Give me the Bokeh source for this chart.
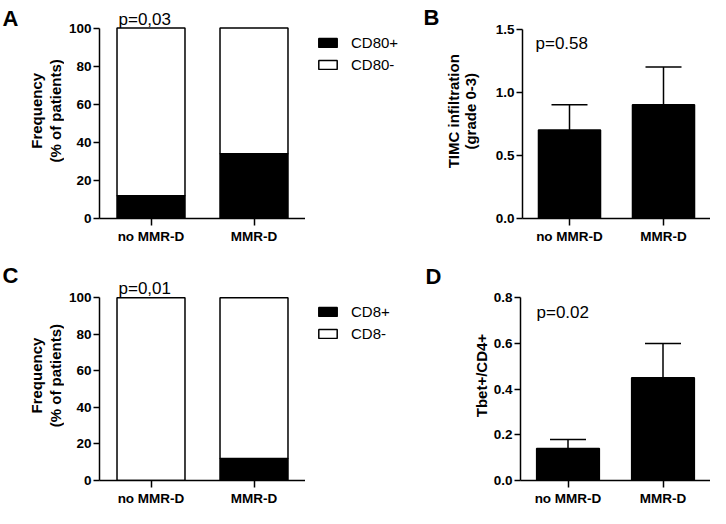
import math
from bokeh.plotting import figure
from bokeh.layouts import column, row
from bokeh.models import (ColumnDataSource, FactorRange, Range1d, FixedTicker, Label,
                          Legend, LegendItem, Whisker, TeeHead, PrintfTickFormatter)
from bokeh.core.properties import value
from bokeh.embed import file_html
from bokeh.resources import INLINE

# ---------------- data ----------------
groups = ["no MMR-D", "MMR-D"]

cd80_pos = [12, 34]
cd80_neg = [88, 66]

timc_mean = [0.70, 0.90]
timc_err = [0.20, 0.30]

cd8_pos = [0, 12]
cd8_neg = [100, 88]

tbet_mean = [0.14, 0.45]
tbet_err = [0.04, 0.15]

freq_ticks = [0, 20, 40, 60, 80, 100]
timc_ticks = [0.0, 0.5, 1.0, 1.5]
tbet_ticks = [0.0, 0.2, 0.4, 0.6, 0.8]

FONT = "Liberation Sans"
H1, H2 = 246, 262          # row heights
B1, B2 = 25, 25            # bottom borders (x tick labels)
NAN = float("nan")


def blank_fig(width, height):
    t = figure(width=width, height=height, x_range=Range1d(0, width),
               y_range=Range1d(0, height), x_axis_type=None, y_axis_type=None,
               output_backend="svg", toolbar_location=None, min_border=0)
    t.outline_line_color = None
    return t


def text_fig(width, height, items):
    """Helper canvas (frame = whole figure) holding panel letters and y titles."""
    t = blank_fig(width, height)
    for txt, x, y, size, angle, align, baseline in items:
        t.text(x=[x], y=[y], text=[txt], angle=angle, text_font=value(FONT),
               text_font_size=value(size), text_font_style="bold", text_color="black",
               text_align=align, text_baseline=baseline)
    return t


def legend_fig(width, height, labels, leg_y):
    t = blank_fig(width, height)
    # legend proxies (no visible data)
    r_pos = t.vbar(x=[NAN], top=[NAN], width=1, fill_color="black", line_color="black",
                   line_width=1.5)
    r_neg = t.vbar(x=[NAN], top=[NAN], width=1, fill_color="white", line_color="black",
                   line_width=1.5)
    legend = Legend(items=[LegendItem(label=labels[0], renderers=[r_pos]),
                           LegendItem(label=labels[1], renderers=[r_neg])],
                    location=(11, leg_y), padding=0, margin=0, spacing=5,
                    glyph_width=23, glyph_height=11, label_standoff=12,
                    label_height=11, label_text_font=FONT, label_text_font_size="15px",
                    label_text_color="black",
                    border_line_color=None, background_fill_alpha=0)
    t.add_layout(legend)
    return t


def base_fig(width, height, left, right, bottom, ytop, ymax_axis, ticks, fmt=None):
    p = figure(width=width, height=height, x_range=FactorRange(*groups),
               y_range=Range1d(0, ytop), output_backend="svg", toolbar_location=None,
               min_border_left=left, min_border_right=right, min_border_top=0,
               min_border_bottom=bottom)
    p.xgrid.visible = False
    p.ygrid.visible = False
    p.outline_line_color = None
    for ax in (p.xaxis[0], p.yaxis[0]):
        ax.axis_line_width = 1.5
        ax.major_tick_line_width = 1.5
        ax.major_tick_in = 0
        ax.minor_tick_line_color = None
        ax.major_label_text_font = FONT
        ax.major_label_text_font_style = "bold"
        ax.major_label_text_font_size = "13.5px"
        ax.major_label_text_color = "black"
        ax.axis_line_color = "black"
        ax.major_tick_line_color = "black"
    p.xaxis.major_tick_out = 7
    p.xaxis.major_label_standoff = 3
    p.yaxis.major_tick_out = 6
    p.yaxis.major_label_standoff = 2
    p.yaxis.bounds = (0, ymax_axis)
    p.yaxis.ticker = FixedTicker(ticks=ticks)
    if fmt:
        p.yaxis.formatter = PrintfTickFormatter(format=fmt)
    return p


def p_label(p, text, x, y):
    p.add_layout(Label(x=x, y=y, x_units="screen", y_units="data", text=text,
                       text_font=FONT, text_font_size="17px", text_color="black",
                       text_align="left", text_baseline="alphabetic"))


def stacked_panel(height, bottom, ytop, pos, neg, ptext, p_y):
    p = base_fig(241, height, 35, 0, bottom, ytop, 100, freq_ticks)
    src = ColumnDataSource(dict(cat=groups, pos=pos, neg=neg))
    p.vbar_stack(["pos", "neg"], x="cat", width=0.66, source=src,
                 fill_color=["black", "white"], line_color="black", line_width=1.5)
    p_label(p, ptext, 19, p_y)
    return p


def bar_panel(width, height, left, bottom, ytop, ymax_axis, ticks, mean, err,
              ptext, p_x, p_y):
    p = base_fig(width, height, left, 0, bottom, ytop, ymax_axis, ticks, "%.1f")
    upper = [m + e for m, e in zip(mean, err)]
    src = ColumnDataSource(dict(cat=groups, mean=mean, upper=upper))
    p.vbar(x="cat", top="mean", width=0.66, source=src, fill_color="black",
           line_color="black", line_width=1.5)
    p.add_layout(Whisker(base="cat", lower="mean", upper="upper", source=src,
                         dimension="height", line_width=1.5, line_color="black",
                         lower_head=None,
                         upper_head=TeeHead(size=36, line_width=1.5, line_color="black"),
                         level="glyph"))
    p_label(p, ptext, p_x, p_y)
    return p


R = math.pi / 2
# ---- row 1 ----
tA = text_fig(64, H1, [
    ("A", 2, H1 - 20, "22px", 0, "left", "alphabetic"),
    ("Frequency", 35.5, H1 - 124.5, "15px", R, "center", "middle"),
    ("(% of patients)", 54.5, H1 - 124.5, "15px", R, "center", "middle"),
])
pA = stacked_panel(H1, B1, 114.5, cd80_pos, cd80_neg, "p=0,03", 104.65)
lA = legend_fig(95, H1, ["CD80+", "CD80-"], 145)
tB = text_fig(82, H1, [
    ("B", 23, H1 - 19, "22px", 0, "left", "alphabetic"),
    ("TIMC infiltration", 52.5, H1 - 125, "15px", R, "center", "middle"),
    ("(grade 0-3)", 70, H1 - 125, "15px", R, "center", "middle"),
])
pB = bar_panel(228, H1, 40, B1, 1.7266, 1.5, timc_ticks, timc_mean, timc_err,
               "p=0.58", 13, 1.383)

# ---- row 2 ----
tC = text_fig(64, H2, [
    ("C", 2, H2 - 33, "22px", 0, "left", "alphabetic"),
    ("Frequency", 35.5, H2 - 144.5, "15px", R, "center", "middle"),
    ("(% of patients)", 54.5, H2 - 144.5, "15px", R, "center", "middle"),
])
pC = stacked_panel(H2, B2, 128.1, cd8_pos, cd8_neg, "p=0,01", 104.9)
lC = legend_fig(95, H2, ["CD8+", "CD8-"], 138)
tD = text_fig(90, H2, [
    ("D", 25, H2 - 34, "22px", 0, "left", "alphabetic"),
    ("Tbet+/CD4+", 81, H2 - 144.5, "15px", R, "center", "middle"),
])
pD = bar_panel(220, H2, 29, B2, 1.0249, 0.8, tbet_ticks, tbet_mean, tbet_err,
               "p=0.02", 16, 0.735)

layout = column(row(tA, pA, lA, tB, pB), row(tC, pC, lC, tD, pD))

with open("out.html", "w") as f:
    f.write(file_html(layout, INLINE))
